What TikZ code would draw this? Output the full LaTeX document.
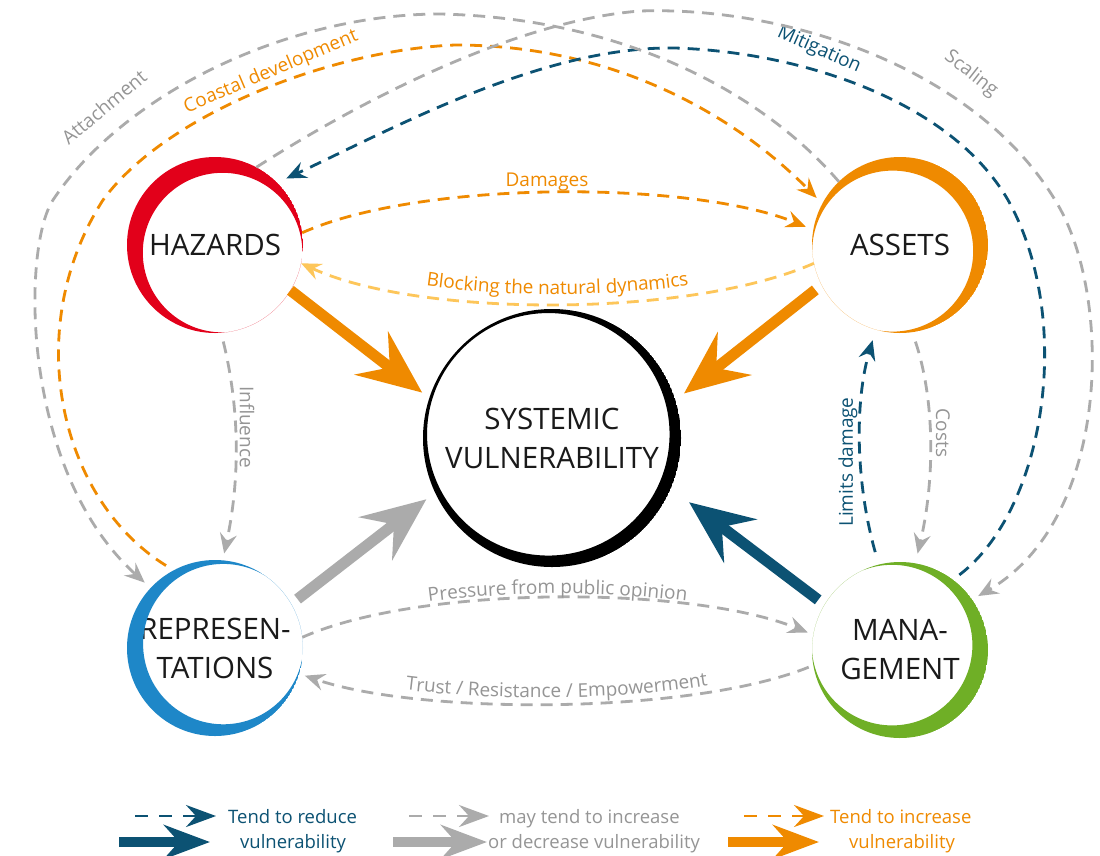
\documentclass[tikz,border=0pt]{standalone}
\usepackage{fontspec}
\setmainfont{Open Sans}
\usetikzlibrary{arrows.meta,decorations.text}
\definecolor{hazred}{HTML}{E2001A}
\definecolor{orng}{HTML}{EF8A00}
\definecolor{repblue}{HTML}{1E87C8}
\definecolor{mgreen}{HTML}{6FAF26}
\definecolor{dblue}{HTML}{0C5273}
\definecolor{lgray}{HTML}{ABABAB}
\definecolor{tgray}{HTML}{959595}
\definecolor{yel}{HTML}{FDC65A}
\definecolor{txtblack}{HTML}{1A1A1A}
\newcommand\lblfnt{\fontsize{19}{22}\selectfont}
\newcommand\mycrescent[7]{%
  \begin{scope}
    \clip (#2,#3) circle[radius=#4];
    \fill[#1,even odd rule] (#2,#3) circle[radius=#4] (#5,#6) circle[radius=#7];
  \end{scope}}
\begin{document}
\begin{tikzpicture}[x=1pt,y=-1pt,
  ent/.style={circle,minimum size=176pt,inner sep=0pt,outer sep=0pt,align=center,text=txtblack,font=\fontsize{29.5}{39}\selectfont},
  dsh/.style={line width=2.8pt,dash pattern=on 12pt off 8pt},
  dtip/.style={-{Stealth[length=20pt,width=17pt,inset=7pt]}},
  big/.style={line width=11pt,-{Stealth[length=64pt,width=54pt,inset=23pt]}},
  lbl/.style={font=\lblfnt,inner sep=0pt},
  leg/.style={font=\fontsize{18.5}{22}\selectfont,inner sep=0pt},
  legdsh/.style={line width=2.8pt,dash pattern=on 13pt off 11pt,-{Stealth[length=30pt,width=22pt,inset=10pt]}},
  legbig/.style={line width=10pt,-{Stealth[length=46pt,width=34pt,inset=15pt]}},
]
\useasboundingbox (0,0) rectangle (1100,855);
\fill[white] (0,0) rectangle (1100,855);

% entity nodes
\node[ent] (haz) at (215,245) {HAZARDS};
\node[ent] (ast) at (900,245) {ASSETS};
\node[ent] (rep) at (215,648) {REPRESEN-\\TATIONS};
\node[ent] (man) at (900,650) {MANA-\\GEMENT};
\node[ent,minimum size=258pt] (sys) at (552,438) {SYSTEMIC\\VULNERABILITY};

% crescents
\mycrescent{hazred}{215}{245}{88}{222.6}{252.6}{79.8}
\mycrescent{orng}{900}{245}{88}{892.7}{251.1}{80.5}
\mycrescent{repblue}{215}{648}{88}{223.3}{644.1}{80.2}
\mycrescent{mgreen}{900}{650}{88}{892.1}{645.1}{80.3}
\mycrescent{black}{552}{438}{129}{548.3}{434.3}{121.25}

% Damages / Blocking
\draw[dsh,dtip,orng,shorten >=8pt] (haz.8) .. controls (420,180) and (690,180) .. (ast.170);
\node[lbl,text=orng] (tDam) at (547,182) {Damages};
\draw[dsh,dtip,yel] (ast.192) .. controls (690,318) and (420,318) .. (haz.-12);
\path[decorate,decoration={text along path,text align=center,raise=10pt,text={|\lblfnt\color{orng}|Blocking the natural dynamics}}] (haz.-12) .. controls (420,318) and (690,318) .. (ast.192);

% Coastal development
\draw[dsh,dtip,orng,shorten <=9pt,shorten >=8pt] (rep.118) .. controls (60,500) and (20,330) .. (103,200) .. controls (165,115) and (330,50) .. (455,45) .. controls (620,45) and (740,120) .. (ast.152);
\node[lbl,text=orng,rotate=23] (tCoa) at (271,72) {Coastal development};

% Mitigation
\draw[dsh,dtip,dblue,shorten <=8pt,shorten >=10pt] (man.53) .. controls (1045,510) and (1075,320) .. (1008,200) .. controls (950,100) and (800,52) .. (675,48) .. controls (545,46) and (400,125) .. (haz.45);
\node[lbl,text=dblue,rotate=-24] (tMit) at (819,50) {Mitigation};

% Attachment
\draw[dsh,dtip,lgray,shorten >=8pt] (ast.134) .. controls (760,90) and (620,18) .. (440,14) .. controls (290,14) and (125,92) .. (53,200) .. controls (22,247) and (20,470) .. (rep.137);
\node[lbl,text=tgray,rotate=40] (tAtt) at (104,107) {Attachment};

% Scaling
\draw[dsh,dtip,lgray,shorten >=7pt] (haz.62) .. controls (330,120) and (500,22) .. (640,11) .. controls (790,6) and (980,70) .. (1058,205) .. controls (1113,300) and (1110,520) .. (man.35);
\node[lbl,text=tgray,rotate=-38] (tSca) at (971,74) {Scaling};

% Influence
\draw[dsh,dtip,lgray,shorten <=9pt,shorten >=7pt] (haz.-86) .. controls (240,410) and (240,480) .. (rep.85);
\node[lbl,text=tgray,rotate=-90] (tInf) at (247,427) {Influence};

% Costs
\draw[dsh,dtip,lgray,shorten <=10pt,shorten >=10pt] (ast.-82) .. controls (935,400) and (935,480) .. (man.80);
\node[lbl,text=tgray,rotate=-90] (tCos) at (943,433) {Costs};

% Limits damage
\draw[dsh,dtip,dblue,shorten <=13pt,shorten >=11pt] (man.104) .. controls (855,480) and (855,400) .. (ast.-106);
\node[lbl,text=dblue,rotate=90] (tLim) at (848,462) {Limits damage};

% Pressure / Trust
\draw[dsh,dtip,lgray,shorten >=6pt] (rep.7) .. controls (420,585) and (690,585) .. (man.170);
\path[decorate,decoration={text along path,text align=center,raise=4pt,text={|\lblfnt\color{tgray}|Pressure from public opinion}}] (rep.7) .. controls (420,585) and (690,585) .. (man.170);
\draw[dsh,dtip,lgray,shorten <=5pt,shorten >=6pt] (man.190) .. controls (690,715) and (420,715) .. (rep.-17);
\path[decorate,decoration={text along path,text align=center,raise=6pt,text={|\lblfnt\color{tgray}|Trust / Resistance / Empowerment}}] (rep.-17) .. controls (420,715) and (690,715) .. (man.190);

% big arrows
\draw[big,orng,shorten >=9pt] (haz.-31) -- (sys.162);
\draw[big,orng,shorten <=8pt,shorten >=11pt] (ast.207) -- (sys.17);
\draw[big,lgray,shorten <=8pt,shorten >=11pt] (rep.30) -- (sys.205);
\draw[big,dblue,shorten <=8pt,shorten >=23pt] (man.149) -- (sys.-23);

% legend
\coordinate (lgA1) at (135,816); \coordinate (lgA2) at (216,816);
\coordinate (lgA3) at (119,842); \coordinate (lgA4) at (210,842);
\draw[legdsh,dblue] (lgA1) -- (lgA2);
\draw[legbig,dblue] (lgA3) -- (lgA4);
\node[leg,text=dblue,anchor=base west] (lgAt) at (228,823) {Tend to reduce};
\node[leg,text=dblue,anchor=base] (lgAu) at (293,848) {vulnerability};

\coordinate (lgB1) at (409,816); \coordinate (lgB2) at (489,816);
\coordinate (lgB3) at (393,842); \coordinate (lgB4) at (487,842);
\draw[legdsh,lgray] (lgB1) -- (lgB2);
\draw[legbig,lgray] (lgB3) -- (lgB4);
\node[leg,text=tgray,anchor=base west] (lgBt) at (499,823) {may tend to increase};
\node[leg,text=tgray,anchor=base west] (lgBu) at (488,848) {or decrease vulnerability};

\coordinate (lgC1) at (744,816); \coordinate (lgC2) at (824,816);
\coordinate (lgC3) at (728,842); \coordinate (lgC4) at (819,842);
\draw[legdsh,orng] (lgC1) -- (lgC2);
\draw[legbig,orng] (lgC3) -- (lgC4);
\node[leg,text=orng,anchor=base west] (lgCt) at (830,823) {Tend to increase};
\node[leg,text=orng,anchor=base] (lgCu) at (902,848) {vulnerability};
\end{tikzpicture}
\end{document}
